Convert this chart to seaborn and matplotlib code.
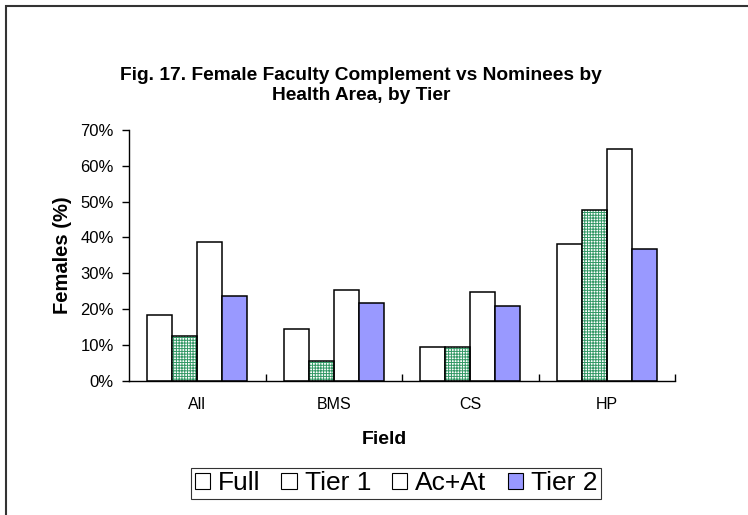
import pandas as pd
import seaborn as sns
import matplotlib.pyplot as plt
from matplotlib.patches import Patch, Rectangle
from matplotlib.ticker import FuncFormatter, FixedLocator

fields = ["All", "BMS", "CS", "HP"]
series = ["Full", "Tier 1", "Ac+At", "Tier 2"]
full = [18.3, 14.4, 9.5, 38.1]
tier1 = [12.5, 5.6, 9.5, 47.6]
acat = [38.8, 25.2, 24.9, 64.8]
tier2 = [23.7, 21.6, 20.9, 36.9]

colors = {"Full": "white", "Tier 1": "white", "Ac+At": "white", "Tier 2": "#9999FF"}
hatch_green = "#339966"

rows = []
for name, vals in zip(series, [full, tier1, acat, tier2]):
    for f, v in zip(fields, vals):
        rows.append({"Field": f, "Series": name, "Females": v})
df = pd.DataFrame(rows)


def plot_bars(df):
    sns.set_style("white", {'axes.grid': False})
    plt.rcParams['font.family'] = ['Liberation Sans', 'DejaVu Sans']
    plt.rcParams['text.color'] = 'black'
    plt.rcParams['axes.labelcolor'] = 'black'
    plt.rcParams['xtick.color'] = 'black'
    plt.rcParams['ytick.color'] = 'black'
    plt.rcParams['hatch.linewidth'] = 0.7

    fig = plt.figure(figsize=(7.48, 5.15), dpi=100)
    ax = fig.add_axes([129 / 748, 1 - 380.7 / 515, (675 - 129) / 748, (380.7 - 130) / 515])

    sns.barplot(data=df, x="Field", y="Females", hue="Series", order=fields,
                hue_order=series, palette=colors, width=0.73, edgecolor="black",
                linewidth=1.1, saturation=1, legend=False, ax=ax)

    # Tier 1 bars get the green grid fill, outline redrawn in black on top
    for p in ax.containers[1]:
        p.set_hatch("++++++")
        p.set_edgecolor(hatch_green)
        p.set_linewidth(0)
        ax.add_patch(Rectangle(p.get_xy(), p.get_width(), p.get_height(),
                               fill=False, edgecolor="black", linewidth=1.1, zorder=p.get_zorder() + 0.1))

    ax.set_ylim(0, 70)
    ax.set_xlim(-0.5, 3.5)
    ax.set_yticks(range(0, 71, 10))
    ax.yaxis.set_major_formatter(FuncFormatter(lambda v, _: f"{int(v)}%"))
    ax.tick_params(axis="y", direction="out", length=5, width=1, labelsize=12, pad=6, left=True)
    ax.tick_params(axis="x", which="major", length=0, labelsize=11.5, pad=12)
    ax.xaxis.set_minor_locator(FixedLocator([0.5, 1.5, 2.5, 3.5]))
    ax.tick_params(axis="x", which="minor", direction="in", length=5, width=1, bottom=True)

    for s in ["top", "right"]:
        ax.spines[s].set_visible(False)
    for s in ["left", "bottom"]:
        ax.spines[s].set_color("black")
        ax.spines[s].set_linewidth(1)

    ax.set_xlabel("Field", fontsize=14, fontweight="bold")
    ax.set_ylabel("Females (%)", fontsize=14.5, fontweight="bold")
    ax.xaxis.set_label_coords((384.5 - 129) / 546, (380.7 - 440) / 250.7)
    ax.xaxis.label.set_va("center")
    ax.yaxis.set_label_coords((62 - 129) / 546, 0.5)
    ax.yaxis.label.set_va("center")

    fig.text(361 / 748, 1 - 85.5 / 515, "Fig. 17. Female Faculty Complement vs Nominees by\nHealth Area, by Tier",
             ha="center", va="center", fontsize=13.8, fontweight="bold", linespacing=1.2)

    handles = [Patch(facecolor=colors[s], edgecolor="black", linewidth=0.8) for s in series]
    leg = ax.legend(handles, series, loc="center", bbox_to_anchor=(396 / 748, 1 - 483.5 / 515),
                    bbox_transform=fig.transFigure, ncol=4, fontsize=19, frameon=True,
                    fancybox=False, edgecolor="black", handlelength=0.58, handleheight=0.58,
                    handletextpad=0.3, columnspacing=0.8, borderpad=0.12, borderaxespad=0)
    leg.get_frame().set_linewidth(0.8)

    fig.add_artist(Rectangle((6 / 748, -0.1), 1.2, 1.1 - 6 / 515, transform=fig.transFigure,
                             fill=False, edgecolor="#333333", linewidth=1.5))

    plt.savefig("out.png", dpi=100)
    return plt.close()


plot_bars(df)
